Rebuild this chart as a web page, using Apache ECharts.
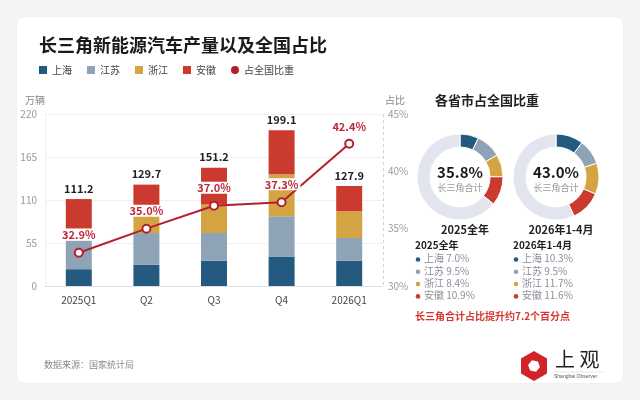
<!DOCTYPE html>
<html>
<head>
<meta charset="utf-8">
<script src="https://cdn.jsdelivr.net/npm/echarts@6/dist/echarts.min.js"></script>
<style>
  html, body { margin: 0; padding: 0; background: #f5f4f2; }
  #chart { width: 640px; height: 400px; }
</style>
</head>
<body>
<div id="chart"></div>
<script>
// 季度产量（万辆）
var quarters = ['2025Q1', 'Q2', 'Q3', 'Q4', '2026Q1']
var shanghai = [21.5, 27.0, 32.2, 37.7, 32.2]
var jiangsu = [36.5, 40.7, 35.6, 51.5, 29.2]
var zhejiang = [15.7, 23.0, 36.4, 53.7, 34.2]
var anhui = [37.5, 39.0, 47.0, 56.2, 32.3]
var totals = [111.2, 129.7, 151.2, 199.1, 127.9]
var sharePct = [32.9, 35.0, 37.0, 37.3, 42.4]

// 各省市占全国比重
var provinces = ['上海', '江苏', '浙江', '安徽']
var share2025 = [7.0, 9.5, 8.4, 10.9]
var share2026 = [10.3, 9.5, 11.7, 11.6]
var shareTotals = ['35.8%', '43.0%']
var periods = ['2025全年', '2026年1-4月']

var colors = ['#245a80', '#8fa3b7', '#d4a443', '#cb3a2f']
var lineColor = '#b51f2d'
var ringGray = '#e2e5ed'
var font = '"Noto Sans CJK SC", "Noto Sans", sans-serif'

function pieData (arr) {
  var rest = 100
  var out = arr.map(function (v, i) {
    rest -= v
    return { name: provinces[i], value: v, itemStyle: { color: colors[i] } }
  })
  out.push({ name: '其他', value: rest, itemStyle: { color: ringGray } })
  return out
}

function legendTexts (arr, x, title) {
  var items = [{
    type: 'text', left: x, top: 240,
    style: { text: title, font: 'bold 10px ' + font, fill: '#222' }
  }]
  arr.forEach(function (v, i) {
    items.push({
      type: 'circle', shape: { cx: x + 3, cy: 259.5 + i * 12.3, r: 2.3 },
      style: { fill: colors[i] }
    })
    items.push({
      type: 'text', left: x + 9, top: 253.5 + i * 12.3,
      style: { text: provinces[i] + ' ' + v.toFixed(1) + '%', font: '10px ' + font, fill: '#8a8f99' }
    })
  })
  return items
}

var myChart = echarts.init(document.getElementById('chart'))

var barSeries = [shanghai, jiangsu, zhejiang, anhui].map(function (d, i) {
  var s = {
    name: provinces[i],
    type: 'bar',
    stack: 'total',
    barWidth: 26,
    itemStyle: { color: colors[i] },
    data: d
  }
  if (i === 3) {
    s.label = {
      show: true,
      position: 'top',
      distance: 5,
      color: '#222',
      fontWeight: 'bold',
      fontSize: 11,
      fontFamily: font,
      formatter: function (p) { return totals[p.dataIndex].toFixed(1) }
    }
  }
  return s
})

myChart.setOption({
  backgroundColor: '#f5f4f2',
  textStyle: { fontFamily: font },
  title: [
    {
      text: '长三角新能源汽车产量以及全国占比',
      left: 34, top: 31,
      textStyle: { fontSize: 18, fontWeight: 'bold', color: '#1a1a1a' }
    },
    {
      text: '各省市占全国比重',
      left: 482, top: 89, textAlign: 'center',
      textStyle: { fontSize: 13, fontWeight: 'bold', color: '#222' }
    },
    {
      text: periods[0], left: 460, top: 219, textAlign: 'center',
      textStyle: { fontSize: 11, fontWeight: 'bold', color: '#222' }
    },
    {
      text: periods[1], left: 556, top: 219, textAlign: 'center',
      textStyle: { fontSize: 11, fontWeight: 'bold', color: '#222' }
    }
  ],
  legend: {
    left: 34, top: 60,
    itemWidth: 8, itemHeight: 8, itemGap: 15,
    textStyle: { fontSize: 10, color: '#444' },
    data: [
      { name: '上海', icon: 'rect' },
      { name: '江苏', icon: 'rect' },
      { name: '浙江', icon: 'rect' },
      { name: '安徽', icon: 'rect' },
      { name: '占全国比重', icon: 'circle', itemStyle: { color: lineColor, borderWidth: 0 } }
    ]
  },
  grid: { left: 45, right: 257, top: 114, bottom: 114 },
  xAxis: {
    type: 'category',
    data: quarters,
    axisTick: { show: false },
    axisLine: { lineStyle: { color: '#dde0e6' } },
    axisLabel: { color: '#444', fontSize: 10, margin: 9 },
    splitLine: {
      show: true,
      interval: function (i) { return i === 4 },
      lineStyle: { color: '#cfd2d8', type: [3, 3] }
    }
  },
  yAxis: [
    {
      type: 'value', min: 0, max: 220, interval: 55,
      name: '万辆',
      nameGap: 9,
      nameTextStyle: { color: '#888', fontSize: 10, align: 'right', padding: [0, 0, 0, 0] },
      axisLine: { show: true, lineStyle: { color: '#eef0f3' } },
      axisLabel: { color: '#999', fontSize: 10, margin: 8 },
      splitLine: { lineStyle: { color: '#eef0f3' } }
    },
    {
      type: 'value', min: 30, max: 45, interval: 5,
      name: '占比',
      nameGap: 9,
      nameTextStyle: { color: '#888', fontSize: 10, align: 'left', padding: [0, 0, 0, 2] },
      axisLabel: { color: '#999', fontSize: 10, margin: 5, formatter: '{value}%' },
      splitLine: { show: false }
    }
  ],
  series: barSeries.concat([
    {
      name: '占全国比重',
      type: 'line',
      yAxisIndex: 1,
      data: sharePct,
      z: 5,
      symbol: 'circle',
      symbolSize: 8,
      itemStyle: { color: '#fff', borderColor: lineColor, borderWidth: 2 },
      lineStyle: { color: lineColor, width: 2 },
      label: {
        show: true,
        position: 'top',
        distance: 7,
        color: '#c0283a',
        fontWeight: 'bold',
        fontSize: 11,
        backgroundColor: '#fff',
        padding: [1, 2, 0, 2],
        formatter: function (p) { return p.value.toFixed(1) + '%' }
      }
    },
    {
      type: 'pie', silent: true,
      center: [460, 177], radius: [30, 43],
      startAngle: 90, label: { show: false }, labelLine: { show: false },
      itemStyle: { borderColor: '#fff', borderWidth: 1 },
      data: pieData(share2025)
    },
    {
      type: 'pie', silent: true,
      center: [556, 177], radius: [30, 43],
      startAngle: 90, label: { show: false }, labelLine: { show: false },
      itemStyle: { borderColor: '#fff', borderWidth: 1 },
      data: pieData(share2026)
    }
  ]),
  graphic: [
    {
      type: 'rect', z: -10, silent: true,
      shape: { x: 17, y: 17, width: 606, height: 366, r: 8 },
      style: { fill: '#fff', shadowBlur: 3, shadowColor: 'rgba(0,0,0,0.05)' }
    },
    { type: 'text', x: 460, y: 172, style: { text: shareTotals[0], font: 'bold 15px ' + font, fill: '#1a1a1a', align: 'center', verticalAlign: 'middle' } },
    { type: 'text', x: 460, y: 188, style: { text: '长三角合计', font: '9px ' + font, fill: '#999', align: 'center', verticalAlign: 'middle' } },
    { type: 'text', x: 556, y: 172, style: { text: shareTotals[1], font: 'bold 15px ' + font, fill: '#1a1a1a', align: 'center', verticalAlign: 'middle' } },
    { type: 'text', x: 556, y: 188, style: { text: '长三角合计', font: '9px ' + font, fill: '#999', align: 'center', verticalAlign: 'middle' } },
    {
      type: 'text', left: 415, top: 311,
      style: { text: '长三角合计占比提升约7.2个百分点', font: 'bold 10px ' + font, fill: '#d5372f' }
    },
    {
      type: 'text', left: 44, top: 360,
      style: { text: '数据来源：国家统计局', font: '9px ' + font, fill: '#8a8a8a' }
    },
    // 上观 logo
    {
      type: 'polygon', x: 534, y: 366,
      shape: { points: [[0, -15], [13, -7.5], [13, 7.5], [0, 15], [-13, 7.5], [-13, -7.5]] },
      style: { fill: '#d2232a' }
    },
    {
      type: 'polygon', x: 534, y: 366, rotation: 0.35,
      shape: { points: [[0, -6], [5.2, -3], [5.2, 3], [0, 6], [-5.2, 3], [-5.2, -3]] },
      style: { fill: '#fff' }
    },
    {
      type: 'text', left: 555, top: 349,
      style: { text: '上 观', font: '20px "Noto Sans CJK SC", serif', fill: '#222' }
    },
    {
      type: 'line', shape: { x1: 554, y1: 372, x2: 604, y2: 372 },
      style: { stroke: '#ccc', lineWidth: 0.5 }
    },
    {
      type: 'text', left: 554, top: 374,
      style: { text: 'Shanghai Observer', font: '5px "Liberation Sans", sans-serif', fill: '#555' }
    }
  ].concat(legendTexts(share2025, 415, periods[0])).concat(legendTexts(share2026, 513, periods[1]))
})
</script>
</body>
</html>
